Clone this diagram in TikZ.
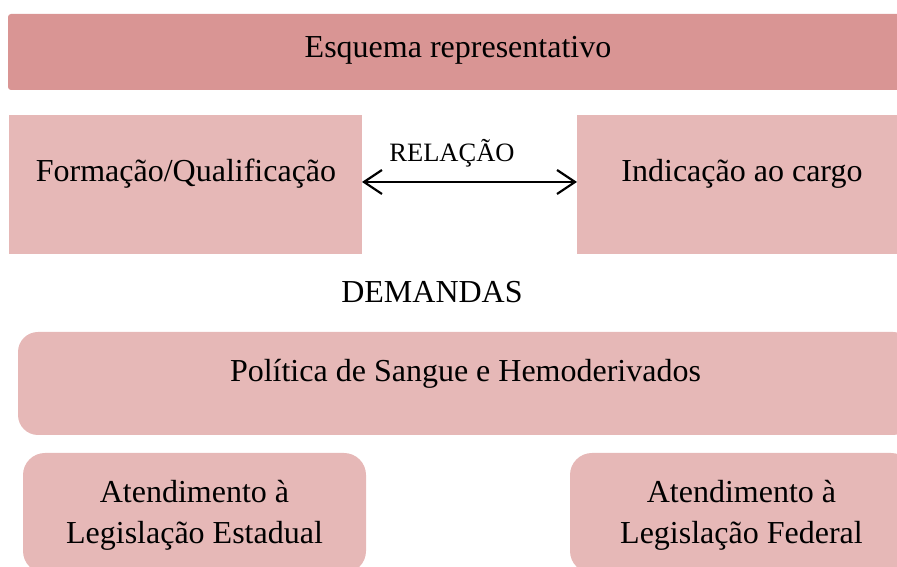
\documentclass[tikz,border=0pt]{standalone}
\usepackage{fontspec}
\setmainfont{Liberation Serif}
\usetikzlibrary{arrows.meta}
\definecolor{darkrose}{HTML}{D99594}
\definecolor{lightrose}{HTML}{E6B8B7}
\begin{document}
\begin{tikzpicture}[x=1pt,y=1pt,
  box/.style={fill=lightrose, draw=none, inner sep=0pt, outer sep=0pt},
  headbox/.style={fill=darkrose, draw=none, inner sep=0pt, outer sep=0pt, rounded corners=3pt},
  txt/.style={inner sep=0pt, anchor=base, font=\fontsize{32}{41.7}\selectfont, align=center},
  small/.style={inner sep=0pt, anchor=base, font=\fontsize{26.5}{30}\selectfont},
  arr/.style={{Straight Barb[length=18pt,width=24pt,line width=2.2pt]}-{Straight Barb[length=18pt,width=24pt,line width=2.2pt]}, line width=2.2pt}
]
\path[use as bounding box, clip] (0,0) rectangle (897,567);
% boxes
\node[headbox, minimum width=900pt, minimum height=76pt] (head) at (458,515) {};
\node[box, minimum width=353pt, minimum height=139pt] (form) at (185.5,382.5) {};
\node[box, minimum width=330pt, minimum height=139pt] (ind) at (742,382.5) {};
\node[box, rounded corners=20pt, minimum width=895pt, minimum height=103pt] (pol) at (465.5,183.5) {};
\node[box, rounded corners=22pt, minimum width=343pt, minimum height=120pt] (est) at (194.5,54) {};
\node[box, rounded corners=22pt, minimum width=343pt, minimum height=120pt] (fed) at (741.5,54) {};
% texts
\node[txt] (headt) at (458,509) {Esquema representativo};
\node[txt] (formt) at (186,385) {Formação/Qualificação};
\node[txt] (indt) at (742,385) {Indicação ao cargo};
\node[small] (rel) at (452,405) {RELAÇÃO};
\node[txt] (dem) at (432,264) {DEMANDAS};
\node[txt] (polt) at (465.5,185) {Política de Sangue e Hemoderivados};
\node[txt] (estt) at (194.5,23) {Atendimento à\\Legislação Estadual};
\node[txt] (fedt) at (741.5,23) {Atendimento à\\Legislação Federal};
% connector
\draw[arr] ([yshift=2.5pt]form.east) -- ([yshift=2.5pt]ind.west);
\end{tikzpicture}
\end{document}
